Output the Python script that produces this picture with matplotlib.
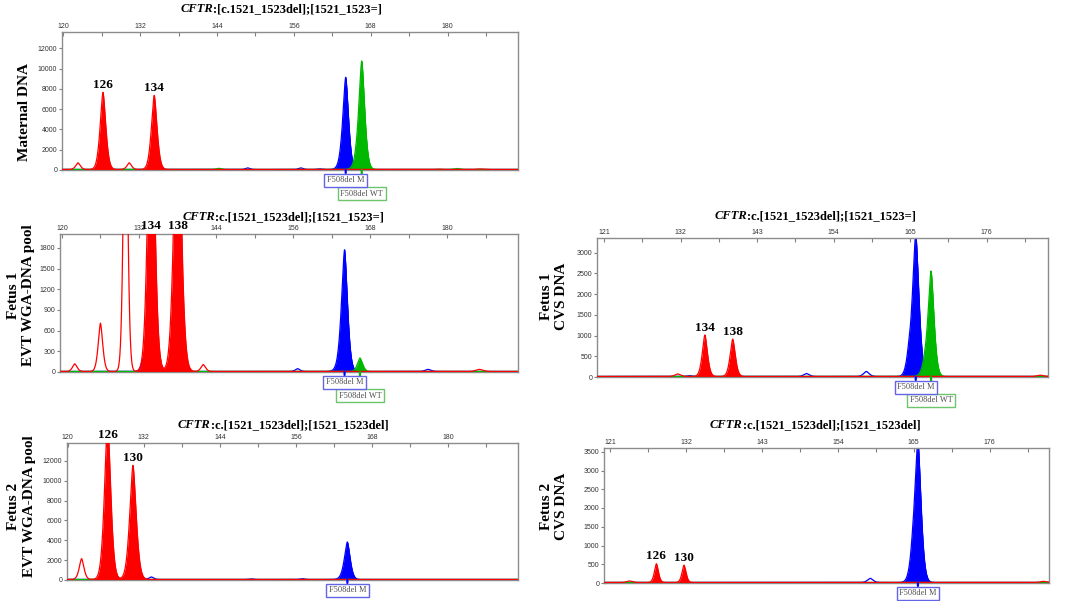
import numpy as np
import matplotlib
matplotlib.use("Agg")
import matplotlib.pyplot as plt
import matplotlib.transforms as mtransforms
from matplotlib.offsetbox import TextArea, HPacker, AnnotationBbox

SERIF = "Liberation Serif"
SANS = "Liberation Sans"
DYE = {"red": "#ff0000", "blue": "#0000ff", "green": "#00b800"}
EDGE = {"blue": "#6464e6", "green": "#6cc46c"}
PEAK_EXP = 1.6  # peak shape exponent (pointy electropherogram peaks)

# ---------------- data ----------------
sample_names = ["Maternal DNA", "Fetus 1\nEVT WGA-DNA pool", "Fetus 1\nCVS DNA",
                "Fetus 2\nEVT WGA-DNA pool", "Fetus 2\nCVS DNA"]
genotypes = [":[c.1521_1523del];[1521_1523=]", ":c.[1521_1523del];[1521_1523=]",
             ":c.[1521_1523del];[1521_1523=]", ":c.[1521_1523del];[1521_1523del]",
             ":c.[1521_1523del];[1521_1523del]"]

# x ranges (bp), x tick labels, y ranges and y ticks (RFU)
size_range = [(119.8, 191.0), (119.7, 191.0), (120.0, 184.8), (119.9, 191.0), (120.1, 184.6)]
size_labels_a = [120, 132, 144, 156, 168, 180]
size_minor_a = [126, 138, 150, 162, 174, 186]
size_labels_b = [121, 132, 143, 154, 165, 176]
size_minor_b = [126.5, 137.5, 148.5, 159.5, 170.5, 181.5]
rfu_max = [13600, 2000, 3350, 13800, 3600]
rfu_ticks = [list(range(0, 12001, 2000)), list(range(0, 1801, 300)), list(range(0, 3001, 500)),
             list(range(0, 12001, 2000)), list(range(0, 3501, 500))]

# peaks: (dye, size_bp, height_rfu, half_width_bp, filled)
maternal_peaks = [
    ("red", 122.3, 650, 0.40, False), ("red", 126.2, 7600, 0.50, True),
    ("red", 130.3, 650, 0.40, False), ("red", 134.2, 7300, 0.50, True),
    ("red", 178.5, 40, 0.50, False), ("red", 185.0, 50, 0.50, False),
    ("blue", 148.8, 150, 0.40, False), ("blue", 157.1, 150, 0.40, False),
    ("blue", 160.0, 60, 0.40, False), ("blue", 163.3, 300, 0.55, True),
    ("blue", 164.1, 9000, 0.50, True),
    ("green", 144.3, 110, 0.45, False), ("green", 165.7, 400, 0.55, True),
    ("green", 166.6, 10600, 0.52, True), ("green", 181.5, 100, 0.50, False),
]
fetus1_evt_peaks = [
    ("red", 122.0, 110, 0.40, False), ("red", 126.0, 700, 0.40, False),
    ("red", 129.9, 5000, 0.35, False), ("red", 133.9, 5000, 0.55, True),
    ("red", 138.0, 4500, 0.60, True), ("red", 142.0, 100, 0.40, False),
    ("red", 185.0, 30, 0.60, False),
    ("blue", 132.8, 230, 0.40, False), ("blue", 156.7, 40, 0.40, False),
    ("blue", 163.2, 70, 0.60, True), ("blue", 164.0, 1740, 0.52, True),
    ("blue", 177.0, 30, 0.50, False),
    ("green", 166.4, 195, 0.45, True),
]
fetus1_cvs_peaks = [
    ("red", 131.6, 60, 0.45, False), ("red", 135.5, 1000, 0.42, True),
    ("red", 139.5, 900, 0.42, True), ("red", 183.7, 30, 0.50, False),
    ("blue", 133.3, 20, 0.40, False), ("blue", 150.1, 70, 0.45, False),
    ("blue", 158.7, 120, 0.45, False), ("blue", 164.8, 380, 0.45, True),
    ("blue", 165.8, 3400, 0.52, True),
    ("green", 167.1, 250, 0.50, True), ("green", 168.0, 2500, 0.48, True),
]
fetus2_evt_peaks = [
    ("red", 122.2, 2100, 0.42, False), ("red", 126.3, 16000, 0.55, True),
    ("red", 130.3, 11500, 0.58, True),
    ("blue", 133.2, 250, 0.40, False), ("blue", 148.9, 60, 0.40, False),
    ("blue", 157.0, 80, 0.40, False), ("blue", 163.4, 180, 0.60, True),
    ("blue", 164.1, 3700, 0.50, True),
]
fetus2_cvs_peaks = [
    ("red", 123.8, 40, 0.45, False), ("red", 127.7, 500, 0.33, True),
    ("red", 131.7, 460, 0.33, True), ("red", 183.8, 30, 0.50, False),
    ("blue", 158.7, 110, 0.45, False), ("blue", 164.8, 420, 0.50, True),
    ("blue", 165.6, 3700, 0.52, True),
]
panel_peaks = [maternal_peaks, fetus1_evt_peaks, fetus1_cvs_peaks, fetus2_evt_peaks, fetus2_cvs_peaks]

# allele labels: (text, size_bp, height_rfu)
panel_alleles = [
    [("126", 126.2, 7600), ("134", 134.2, 7300)],
    [("134", 133.9, 5000), ("138", 138.0, 4500)],
    [("134", 135.5, 1000), ("138", 139.5, 900)],
    [("126", 126.3, 16000), ("130", 130.3, 11500)],
    [("126", 127.7, 500), ("130", 131.7, 460)],
]
# bin markers: (text, size_bp, dye)
panel_markers = [
    [("F508del WT", 166.6, "green"), ("F508del M", 164.1, "blue")],
    [("F508del WT", 166.4, "green"), ("F508del M", 164.0, "blue")],
    [("F508del WT", 168.0, "green"), ("F508del M", 165.8, "blue")],
    [("F508del M", 164.1, "blue")],
    [("F508del M", 165.6, "blue")],
]

# ---------------- layout (pixels) ----------------
W, H = 1065, 601
axes_px = [(62, 32, 518, 170), (60, 234, 518, 372), (597, 238, 1048, 377),
           (67, 443, 518, 580), (604, 448, 1049, 583)]
title_px = [(281, 9), (283, 217), (815, 216), (283, 425), (815, 425)]
ylabel_px = [(25, 111.5), (21, 295), (554, 296), (21.5, 506), (554, 506)]

fig = plt.figure(figsize=(W / 100, H / 100), dpi=100)
fig.patch.set_facecolor("white")


def peak_shape(x, mu, h, hw):
    return h * np.exp(-np.log(2) * (np.abs(x - mu) / hw) ** PEAK_EXP)


for i in range(5):
    l, t, r, b = axes_px[i]
    ax = fig.add_axes([l / W, 1 - b / H, (r - l) / W, (b - t) / H])
    x0, x1 = size_range[i]
    ytop = rfu_max[i]
    ax.set_xlim(x0, x1)
    ax.set_ylim(0, ytop)
    x = np.linspace(x0, x1, 6000)
    base = ytop * 0.004
    for z, dye in enumerate(["blue", "green", "red"]):
        ps = [p for p in panel_peaks[i] if p[0] == dye]
        trace = np.full_like(x, base)
        for _, mu, h, hw, filled in ps:
            trace += peak_shape(x, mu, h, hw)
        ax.plot(x, trace, color=DYE[dye], lw=0.9, zorder=2 + z)
        for _, mu, h, hw, filled in ps:
            if filled:
                m = np.abs(x - mu) < 4.5 * hw
                ax.fill_between(x[m], base, trace[m], color=DYE[dye], lw=0, zorder=2 + z)

    # allele labels
    for txt, mu, h in panel_alleles[i]:
        ax.annotate(txt, xy=(mu, min(h, ytop)), xytext=(0, 2), textcoords="offset pixels",
                    ha="center", va="bottom", fontsize=9.5, fontweight="bold",
                    family=SERIF, color="black", annotation_clip=False, zorder=8)

    # bin markers under axis
    trans = mtransforms.blended_transform_factory(ax.transData, ax.transAxes)
    nmk = len(panel_markers[i])
    for k, (txt, mu, dye) in enumerate(panel_markers[i]):
        level = nmk - 1 - k
        ax.annotate(txt, xy=(mu, 0), xycoords=trans,
                    xytext=(0, -10 - 13.5 * level), textcoords="offset pixels",
                    ha="center", va="center", fontsize=6, family=SERIF, color="#505050",
                    bbox=dict(boxstyle="square,pad=0.3", fc="white", ec=EDGE[dye], lw=1.0),
                    arrowprops=dict(arrowstyle="-", color=DYE[dye], lw=1.6,
                                    shrinkA=0, shrinkB=0),
                    annotation_clip=False, zorder=10 + k)

    # axes styling
    if i in (2, 4):
        ax.set_xticks(size_labels_b)
        ax.set_xticks(size_minor_b, minor=True)
    else:
        ax.set_xticks(size_labels_a)
        ax.set_xticks(size_minor_a, minor=True)
    ax.set_yticks(rfu_ticks[i])
    ax.xaxis.set_ticks_position("top")
    ax.tick_params(axis="x", which="both", direction="in", length=3, width=0.8,
                   colors="#808080", labelsize=5, labelcolor="#333333", pad=1.5)
    ax.tick_params(axis="y", which="both", direction="out", length=2, width=0.8,
                   colors="#808080", labelsize=5, labelcolor="#333333", pad=1.5)
    for lab in ax.get_xticklabels() + ax.get_yticklabels():
        lab.set_family(SANS)
    for sp in ax.spines.values():
        sp.set_color("#8c8c8c")
        sp.set_linewidth(1.0)

    # title: italic gene name + genotype
    tp = dict(fontfamily=SERIF, fontsize=9, fontweight="bold", color="black")
    gene = TextArea("CFTR", textprops=dict(tp, fontstyle="italic"))
    rest = TextArea(genotypes[i], textprops=tp)
    pack = HPacker(children=[gene, rest], align="baseline", pad=0, sep=0)
    tx, ty = title_px[i]
    ab = AnnotationBbox(pack, (tx / W, 1 - ty / H), xycoords="figure fraction",
                        frameon=False, box_alignment=(0.5, 0.5), pad=0)
    fig.add_artist(ab)

    # sample label
    lx, ly = ylabel_px[i]
    fig.text(lx / W, 1 - ly / H, sample_names[i], rotation=90, ha="center", va="center",
             fontsize=11, fontweight="bold", family=SERIF, linespacing=1.25,
             multialignment="center")

fig.savefig("out.png", dpi=100, facecolor="white")
